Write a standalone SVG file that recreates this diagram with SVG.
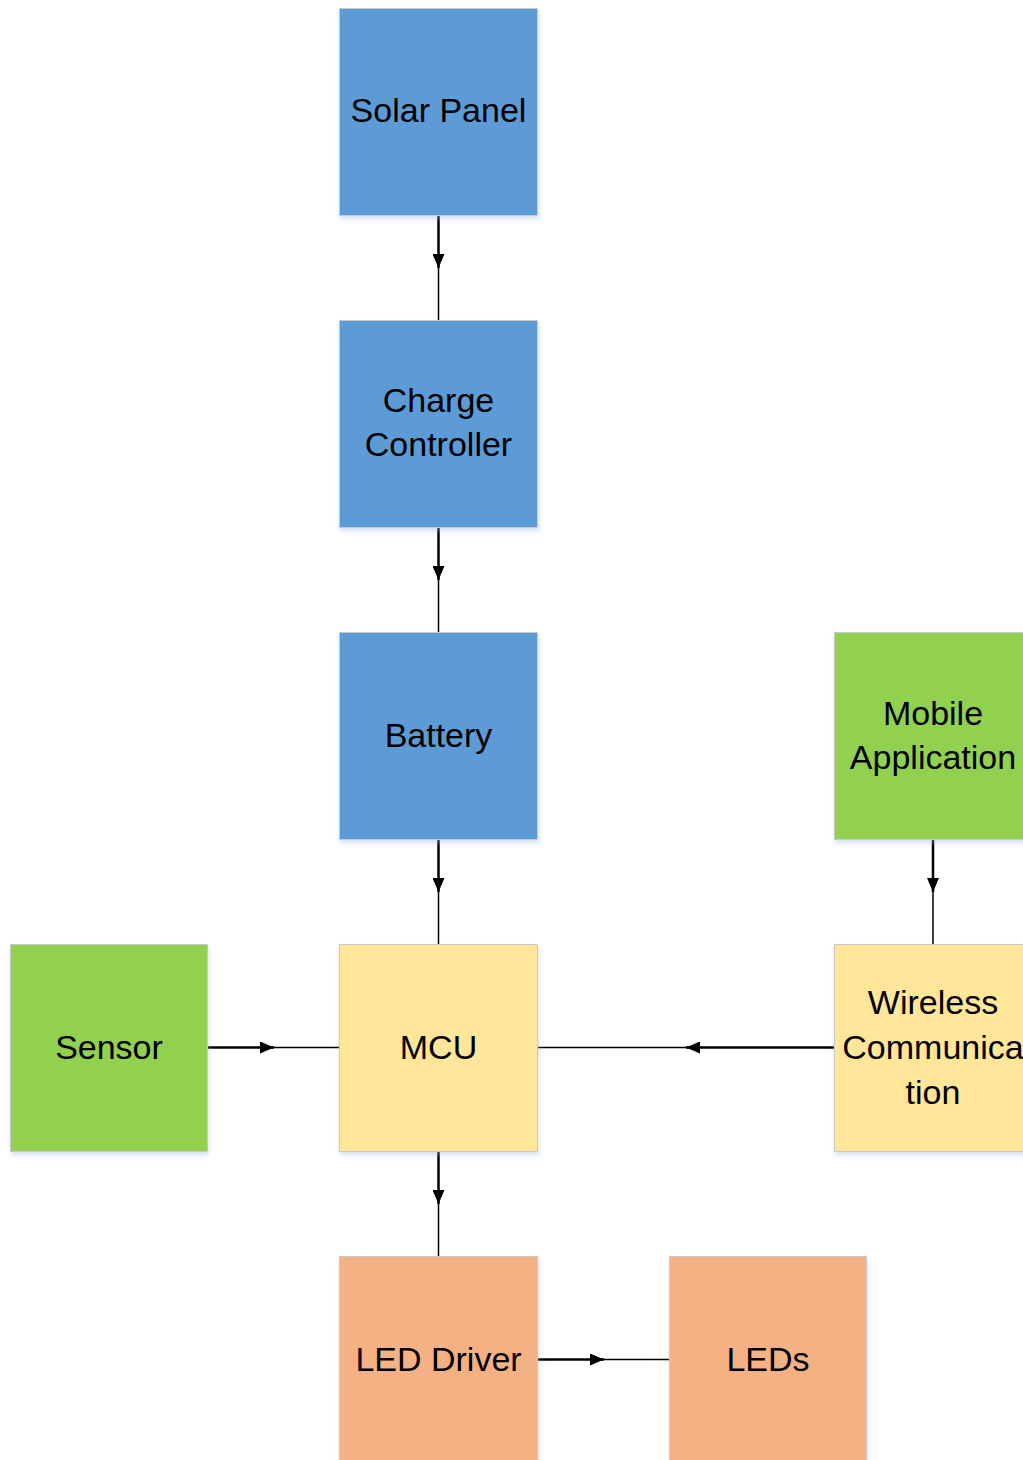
<svg xmlns="http://www.w3.org/2000/svg" width="1023" height="1460" viewBox="0 0 1023 1460">
  <defs>
    <filter id="shadow" x="-10%" y="-10%" width="120%" height="125%">
      <feDropShadow dx="1" dy="3" stdDeviation="2.5" flood-color="#9db8d9" flood-opacity="0.45"/>
    </filter>
    <marker id="arrow" viewBox="0 0 14 12" refX="14" refY="6" markerWidth="14" markerHeight="12" markerUnits="userSpaceOnUse" orient="auto">
      <path d="M0,0 L14,6 L0,12 Z" fill="#000"/>
    </marker>
  </defs>
  <style>
    .box { stroke: #c9c9c9; stroke-width: 1; filter: url(#shadow); }
    .blue { fill: #5b9bd5; }
    .green { fill: #92d050; }
    .yellow { fill: #ffe699; }
    .orange { fill: #f4b183; }
    .label { font-family: "Liberation Sans", Arial, sans-serif; font-size: 34px; fill: #000; text-anchor: middle; }
    .lead { stroke: #000; stroke-width: 2.5; fill: none; }
    .tail { stroke: #000; stroke-width: 1.5; fill: none; }
  </style>

  <rect width="1023" height="1460" fill="#fff"/>

  <!-- connectors: thick lead segment carries the arrowhead, thin tail reaches the target -->
  <g id="connectors">
    <path class="lead" d="M438.5,216 L438.5,268" marker-end="url(#arrow)"/>
    <path class="tail" d="M438.5,266 L438.5,320"/>
    <path class="lead" d="M438.5,528 L438.5,580" marker-end="url(#arrow)"/>
    <path class="tail" d="M438.5,578 L438.5,632"/>
    <path class="lead" d="M438.5,840 L438.5,892" marker-end="url(#arrow)"/>
    <path class="tail" d="M438.5,890 L438.5,944"/>
    <path class="lead" d="M438.5,1152 L438.5,1204" marker-end="url(#arrow)"/>
    <path class="tail" d="M438.5,1202 L438.5,1256"/>
    <path class="lead" d="M933,840 L933,892" marker-end="url(#arrow)"/>
    <path class="tail" d="M933,890 L933,944"/>
    <path class="lead" d="M208,1047.5 L274,1047.5" marker-end="url(#arrow)"/>
    <path class="tail" d="M272,1047.5 L340,1047.5"/>
    <path class="lead" d="M834,1047.5 L686,1047.5" marker-end="url(#arrow)"/>
    <path class="tail" d="M688,1047.5 L537,1047.5"/>
    <path class="lead" d="M538,1359.5 L604,1359.5" marker-end="url(#arrow)"/>
    <path class="tail" d="M602,1359.5 L669,1359.5"/>
  </g>

  <g id="solar-panel">
    <rect class="box blue" x="339.5" y="8.5" width="198" height="207"/>
    <text class="label" x="438.5" y="122">Solar Panel</text>
  </g>
  <g id="charge-controller">
    <rect class="box blue" x="339.5" y="320.5" width="198" height="207"/>
    <text class="label" x="438.5" y="412">Charge</text>
    <text class="label" x="438.5" y="456">Controller</text>
  </g>
  <g id="battery">
    <rect class="box blue" x="339.5" y="632.5" width="198" height="207"/>
    <text class="label" x="438.5" y="747">Battery</text>
  </g>
  <g id="mobile-application">
    <rect class="box green" x="834.5" y="632.5" width="198" height="207"/>
    <text class="label" x="933" y="725">Mobile</text>
    <text class="label" x="933" y="769">Application</text>
  </g>
  <g id="sensor">
    <rect class="box green" x="10.5" y="944.5" width="197" height="207"/>
    <text class="label" x="109" y="1059">Sensor</text>
  </g>
  <g id="mcu">
    <rect class="box yellow" x="339.5" y="944.5" width="198" height="207"/>
    <text class="label" x="438.5" y="1059">MCU</text>
  </g>
  <g id="wireless-communication">
    <rect class="box yellow" x="834.5" y="944.5" width="198" height="207"/>
    <text class="label" x="933" y="1014">Wireless</text>
    <text class="label" x="933" y="1059">Communica</text>
    <text class="label" x="933" y="1104">tion</text>
  </g>
  <g id="led-driver">
    <rect class="box orange" x="339.5" y="1256.5" width="198" height="207"/>
    <text class="label" x="438.5" y="1371">LED Driver</text>
  </g>
  <g id="leds">
    <rect class="box orange" x="669.5" y="1256.5" width="197" height="207"/>
    <text class="label" x="768" y="1371">LEDs</text>
  </g>
</svg>
